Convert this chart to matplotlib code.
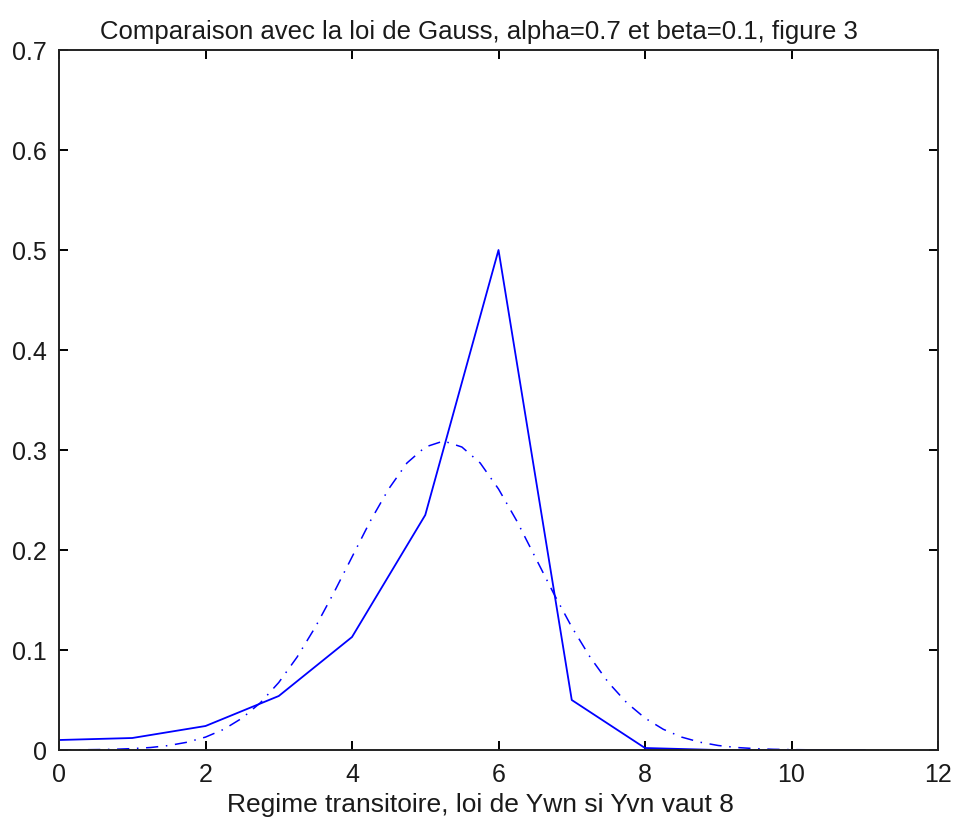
import matplotlib
matplotlib.use("Agg")
import matplotlib.pyplot as plt

plt.rcParams['font.family'] = ['Liberation Sans', 'DejaVu Sans']

# Empirical distribution (solid)
x_emp = [0, 1, 2, 3, 4, 5, 6, 7, 8, 9, 10, 11]
y_emp = [0.010, 0.012, 0.024, 0.054, 0.113, 0.235, 0.500, 0.050, 0.002, 0.000, 0.000, 0.000]

# Gaussian comparison (dash-dot)
x_gauss = [0, 0.25, 0.5, 0.75, 1.0, 1.25, 1.5, 1.75, 2.0, 2.25, 2.5, 2.75, 3.0, 3.25,
           3.5, 3.75, 4.0, 4.25, 4.5, 4.75, 5.0, 5.25, 5.5, 5.75, 6.0, 6.25, 6.5,
           6.75, 7.0, 7.25, 7.5, 7.75, 8.0, 8.25, 8.5, 8.75, 9.0, 9.25, 9.5, 9.75,
           10.0, 10.25, 10.5, 10.75, 11.0]
y_gauss = [0.0001, 0.0002, 0.0004, 0.0007, 0.0014, 0.0025, 0.0045, 0.0078, 0.0129,
           0.0207, 0.0319, 0.0473, 0.0675, 0.0929, 0.123, 0.157, 0.193, 0.229, 0.261,
           0.287, 0.303, 0.309, 0.303, 0.287, 0.261, 0.229, 0.193, 0.157, 0.123,
           0.0929, 0.0675, 0.0473, 0.0319, 0.0207, 0.0129, 0.0078, 0.0045, 0.0025,
           0.0014, 0.0007, 0.0004, 0.0002, 0.0001, 0.0000, 0.0000]

xticks = [0, 2, 4, 6, 8, 10, 12]
yticks = [0, 0.1, 0.2, 0.3, 0.4, 0.5, 0.6, 0.7]
ytick_labels = ['0', '0.1', '0.2', '0.3', '0.4', '0.5', '0.6', '0.7']

fig = plt.figure(figsize=(9.55, 8.24), dpi=100)
ax = fig.add_axes([0.0618, 0.0898, 0.9204, 0.8495])

ax.plot(x_emp, y_emp, color='#0000ff', lw=1.3)
ax.plot(x_gauss, y_gauss, color='#0000ff', lw=1.1, dashes=(8, 5, 1, 5))

ax.set_xlim(0, 12)
ax.set_ylim(0, 0.7)
ax.set_xticks(xticks)
ax.set_xticklabels([str(t) for t in xticks])
ax.set_yticks(yticks)
ax.set_yticklabels(ytick_labels)
ax.tick_params(direction='in', length=6.5, width=1.4, top=True, right=True,
               labelsize=18, pad=9, labelcolor='#1a1a1a')
for s in ax.spines.values():
    s.set_linewidth(1.4)
    s.set_color('#222222')

ax.set_title('Comparaison avec la loi de Gauss, alpha=0.7 et beta=0.1, figure 3',
             fontsize=18.5, pad=8, color='#1a1a1a', x=0.478)
ax.set_xlabel('Regime transitoire, loi de Ywn si Yvn vaut 8', fontsize=19,
              color='#1a1a1a')
ax.xaxis.set_label_coords(0.48, -0.062)

fig.savefig('out.png', dpi=100)
